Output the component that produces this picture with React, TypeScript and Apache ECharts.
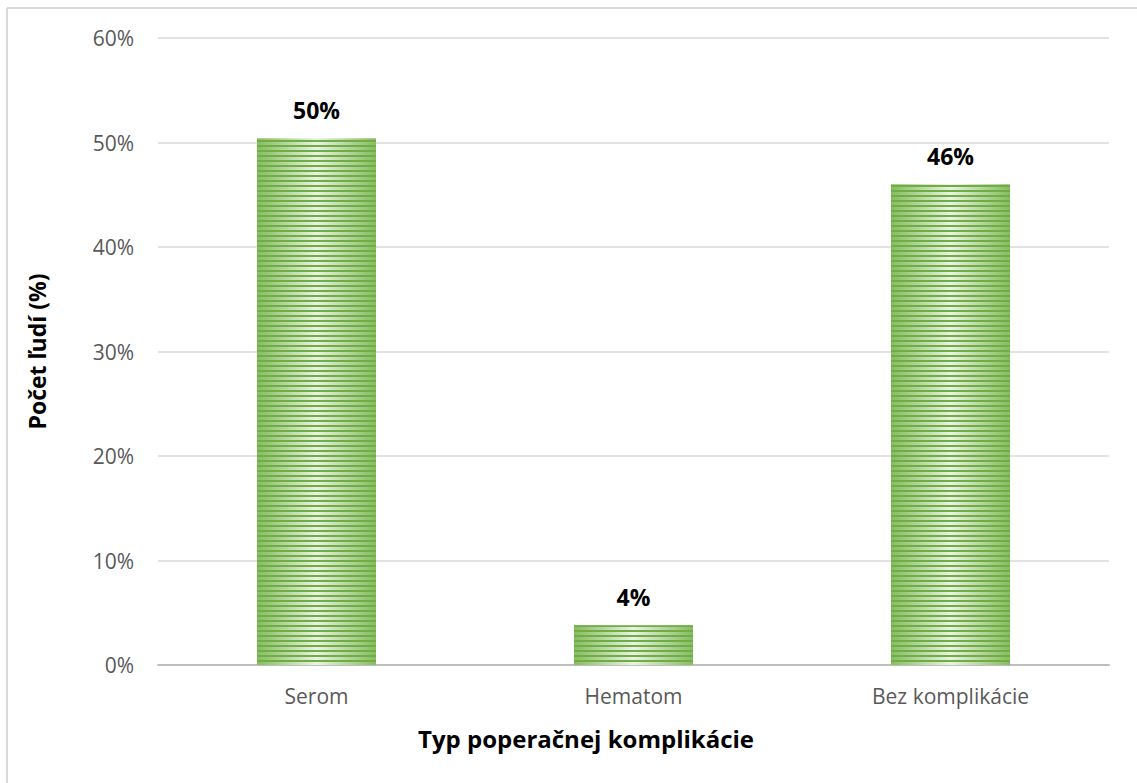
import React, { useEffect, useRef } from "react";
import * as echarts from "echarts";

const categories = ["Serom", "Hematom", "Bez komplikácie"];
const shares = [50.4, 3.8, 46.0];
const yTicks = { min: 0, max: 60, interval: 10 };
const xTitle = "Typ poperačnej komplikácie";
const yTitle = "Počet ľudí (%)";

const FONT = "'Open Sans', 'Noto Sans', sans-serif";

export default function App() {
  const ref = useRef<HTMLDivElement>(null);

  useEffect(() => {
    document.body.style.margin = "0";
    const chart = echarts.init(ref.current!, null, { renderer: "svg" });
    chart.setOption({
      animation: false,
      backgroundColor: "#ffffff",
      grid: { left: 158, right: 28, top: 38, bottom: 118 },
      graphic: [
        {
          type: "line",
          shape: { x1: 7, y1: 8, x2: 1137, y2: 8 },
          style: { stroke: "#d9d9d9", lineWidth: 2 },
        },
        {
          type: "line",
          shape: { x1: 7, y1: 8, x2: 7, y2: 783 },
          style: { stroke: "#d9d9d9", lineWidth: 2 },
        },
        {
          type: "text",
          x: 586,
          y: 738,
          style: {
            text: xTitle,
            fontFamily: FONT,
            fontSize: 24,
            fontWeight: "bold",
            fill: "#000",
            align: "center",
            verticalAlign: "middle",
          },
        },
      ],
      xAxis: {
        type: "category",
        data: categories,
        axisLine: { lineStyle: { color: "#bfbfbf", width: 2 } },
        axisTick: { show: false },
        axisLabel: { fontFamily: FONT, fontSize: 21, color: "#595959", margin: 20 },
      },
      yAxis: {
        type: "value",
        min: yTicks.min,
        max: yTicks.max,
        interval: yTicks.interval,
        name: yTitle,
        nameLocation: "middle",
        nameGap: 110,
        nameRotate: 90,
        nameTextStyle: { fontFamily: FONT, fontSize: 23, fontWeight: "bold", color: "#000" },
        axisLine: { show: false },
        axisTick: { show: false },
        axisLabel: {
          fontFamily: FONT,
          fontSize: 21,
          color: "#595959",
          margin: 24,
          formatter: "{value}%",
        },
        splitLine: { lineStyle: { color: "#d9d9d9", width: 1.5 } },
      },
      series: [
        {
          type: "bar",
          data: shares,
          barWidth: 119,
          itemStyle: {
            color: {
              type: "linear",
              x: 0,
              y: 0,
              x2: 1,
              y2: 0,
              colorStops: [
                { offset: 0, color: "#86bd60" },
                { offset: 0.5, color: "#e9f3e2" },
                { offset: 1, color: "#86bd60" },
              ],
            },
            decal: {
              symbol: "rect",
              symbolSize: 1,
              dashArrayX: [1, 0],
              dashArrayY: [2, 3],
              rotation: 0,
              color: "#70ad47",
            },
          },
          label: {
            show: true,
            position: "top",
            distance: 17,
            fontFamily: FONT,
            fontSize: 23,
            fontWeight: "bold",
            color: "#000",
            formatter: (p: any) => `${Math.round(p.value)}%`,
          },
        },
      ],
    });
    return () => chart.dispose();
  }, []);

  return <div ref={ref} style={{ width: 1137, height: 783 }} />;
}
